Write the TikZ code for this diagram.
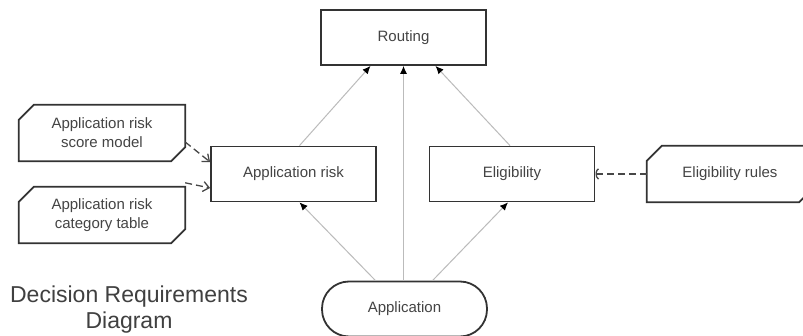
\documentclass[tikz,border=0pt]{standalone}
\usepackage{fontspec}
\setmainfont{Liberation Sans}
\usetikzlibrary{arrows.meta}
\definecolor{bordc}{HTML}{333333}
\definecolor{txtc}{HTML}{444444}
\definecolor{linec}{HTML}{BBBBBB}
\tikzset{
  decbox/.style={draw=bordc, line width=1.8pt, fill=white, rectangle, minimum width=165pt, minimum height=55pt, align=center, text=txtc, font=\fontsize{15}{19}\selectfont, inner sep=0pt},
  ksbox/.style={rectangle, minimum width=166pt, minimum height=56pt, align=center, text=txtc, font=\fontsize{15}{19}\selectfont, inner sep=0pt},
  ksline/.style={draw=bordc, line width=1.8pt, line join=miter},
  databox/.style={draw=bordc, line width=1.8pt, fill=white, rectangle, rounded corners=27pt, minimum width=165pt, minimum height=55pt, align=center, text=txtc, font=\fontsize{15}{19}\selectfont, inner sep=0pt},
  inforeq/.style={draw=linec, line width=1pt, -{Latex[length=8pt,width=7pt,color=black]}},
  authreq/.style={draw=bordc!90, line width=1.3pt, dash pattern=on 7pt off 4pt},
}
\begin{document}
\begin{tikzpicture}[x=1pt,y=-1pt]
\useasboundingbox (0,0) rectangle (803,336);
\clip (0,0) rectangle (803,336);
\fill[white] (0,0) rectangle (803,336);

\node[decbox] (routing) at (403.5,37.5) {Routing};
\node[decbox] (apprisk) at (293.5,174) {Application risk};
\node[decbox] (elig) at (512,174) {Eligibility};
\node[databox] (app) at (404.5,309) {Application};

\node[ksbox] (sm) at (102,133) {Application risk\\score model};
\node[ksbox] (ct) at (102,215) {Application risk\\category table};
\node[ksbox] (er) at (730,174) {Eligibility rules};
\foreach \n in {sm,ct,er}{
  \draw[ksline] ([yshift=-15pt]\n.north west) -- ([xshift=15pt]\n.north west) -- (\n.north east) -- ([yshift=14pt]\n.south east) -- ([xshift=-14pt]\n.south east) -- (\n.south west) -- cycle;
}

\node[text=black!75, align=center, font=\fontsize{23}{26}\selectfont] (title) at (129,310) {Decision Requirements\\Diagram};

% information requirements
\draw[inforeq] ([xshift=6pt]apprisk.north) -- ([xshift=-33pt]routing.south);
\draw[inforeq] (app.north -| routing.south) -- (routing.south);
\draw[inforeq] ([xshift=-2pt]elig.north) -- ([xshift=32pt]routing.south);
\draw[inforeq] ([xshift=-29pt]app.north) -- ([xshift=6pt]apprisk.south);
\draw[inforeq] ([xshift=28pt]app.north) -- ([xshift=-4pt]elig.south);

% authority requirements
\draw[authreq, -{Straight Barb[length=6pt,width=10pt]}] ([yshift=-9pt]sm.east) -- ([yshift=12pt]apprisk.west);
\draw[authreq, -{Straight Barb[length=6pt,width=10pt]}] ([yshift=4pt]ct.north east) -- ([yshift=-14pt]apprisk.west);
\draw[authreq, -{Arc Barb[arc=150,length=4pt,width=12pt]}] (er.west) -- (elig.east);
\end{tikzpicture}
\end{document}
